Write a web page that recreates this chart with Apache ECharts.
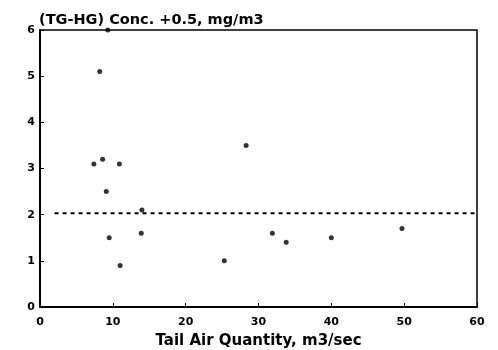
<!DOCTYPE html>
<html><head><meta charset="utf-8">
<script src="https://cdn.jsdelivr.net/npm/echarts@6/dist/echarts.min.js"></script>
<style>html,body{margin:0;padding:0;background:#fff}#c{width:498px;height:350px}</style>
</head><body><div id="c"></div>
<script>
var titleText = "(TG-HG) Conc. +0.5, mg/m3";
var xName = "Tail Air Quantity, m3/sec";
var xTicks = [0, 10, 20, 30, 40, 50, 60];
var yTicks = [0, 1, 2, 3, 4, 5, 6];
var airQuantity = [7.4, 8.6, 10.9, 9.1, 9.5, 11.0, 13.9, 14.0, 25.3, 28.3, 8.2, 9.3, 31.9, 33.8, 40.0, 49.7];
var concentration = [3.1, 3.2, 3.1, 2.5, 1.5, 0.9, 1.6, 2.1, 1.0, 3.5, 5.1, 6.0, 1.6, 1.4, 1.5, 1.7];
var refLineX = [2, 60.6];
var refLineY = [2.03, 2.03];

var pts = airQuantity.map(function (x, i) { return [x, concentration[i]]; });
var refPts = refLineX.map(function (x, i) { return [x, refLineY[i]]; });

var chart = echarts.init(document.getElementById('c'), null, {renderer: 'canvas'});
var font = 'DejaVu Sans, sans-serif';
chart.setOption({
  animation: false,
  backgroundColor: '#fff',
  title: {
    text: titleText, left: 34, top: 8,
    textStyle: {fontFamily: font, fontWeight: 'bold', fontSize: 14.5, color: '#000'}
  },
  grid: {left: 40, right: 21, top: 30, bottom: 43, show: true, borderColor: '#000', borderWidth: 1.5,
         containLabel: false, outerBoundsMode: 'none'},
  xAxis: {
    type: 'value', min: xTicks[0], max: xTicks[xTicks.length - 1], interval: 10,
    name: xName, nameLocation: 'middle', nameGap: 27,
    nameTextStyle: {fontFamily: font, fontWeight: 'bold', fontSize: 15, color: '#000'},
    axisLine: {show: true, lineStyle: {color: '#000', width: 2}},
    axisTick: {show: true, inside: true, length: 4, lineStyle: {color: '#000'}},
    axisLabel: {fontFamily: font, fontWeight: 'bold', fontSize: 11, color: '#000', margin: 10},
    splitLine: {show: false}
  },
  yAxis: {
    type: 'value', min: yTicks[0], max: yTicks[yTicks.length - 1], interval: 1,
    axisLine: {show: true, lineStyle: {color: '#000', width: 2}},
    axisTick: {show: true, inside: true, length: 4, lineStyle: {color: '#000'}},
    axisLabel: {fontFamily: font, fontWeight: 'bold', fontSize: 11, color: '#000', margin: 5},
    splitLine: {show: false}
  },
  series: [
    {
      type: 'scatter', data: pts, symbol: 'circle', symbolSize: 5,
      itemStyle: {color: '#000'}, clip: false
    },
    {
      type: 'line', data: refPts, symbol: 'none', clip: false,
      lineStyle: {color: '#000', width: 2, type: [4, 4]}
    }
  ]
});
</script></body></html>
